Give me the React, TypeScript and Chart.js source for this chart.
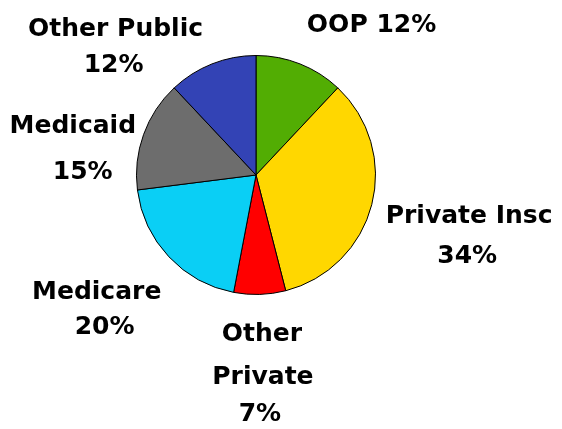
import React, { useEffect, useRef } from "react";
import { Chart, registerables } from "chart.js";

Chart.register(...registerables);

const categories = ["OOP", "Private Insc", "Other Private", "Medicare", "Medicaid", "Other Public"];
const shares = [12, 34, 7, 20, 15, 12];
const sliceColors = ["#52AD03", "#FFD700", "#FF0000", "#0ACFF5", "#6D6D6D", "#3343B5"];
// how each label is broken into lines: inline, name/pct stacked, or each word stacked
const labelModes = ["inline", "stack", "words", "stack", "stack", "stack"];

function labelLines(i: number): string[] {
  const name = categories[i];
  const pct = `${shares[i]}%`;
  const mode = labelModes[i];
  if (mode === "inline") return [`${name} ${pct}`];
  if (mode === "words") return [...name.split(" "), pct];
  return [name, pct];
}

// line anchor offsets from the pie centre, in units of the pie radius
const lineOffsets: number[][][] = [
  [[0.967, -1.25]],
  [[1.783, 0.35], [1.767, 0.683]],
  [[0.05, 1.333], [0.058, 1.692], [0.033, 2.0]],
  [[-1.333, 0.983], [-1.267, 1.275]],
  [[-1.533, -0.408], [-1.45, -0.025]],
  [[-1.175, -1.217], [-1.192, -0.917]],
];

const outsideLabels = {
  id: "outsideLabels",
  afterDatasetsDraw(chart: any) {
    const meta = chart.getDatasetMeta(0);
    const ctx = chart.ctx;
    ctx.save();
    ctx.fillStyle = "#000";
    ctx.font = "bold 25px 'DejaVu Sans'";
    ctx.textAlign = "center";
    ctx.textBaseline = "middle";
    meta.data.forEach((arc: any, i: number) => {
      const { x, y, outerRadius } = arc.getProps(["x", "y", "outerRadius"], true);
      const lines = labelLines(i);
      lines.forEach((line, j) => {
        const off = lineOffsets[i][j];
        ctx.fillText(line, x + off[0] * outerRadius, y + off[1] * outerRadius);
      });
    });
    ctx.restore();
  },
};

export default function App() {
  const ref = useRef<HTMLCanvasElement>(null);
  useEffect(() => {
    document.body.style.margin = "0";
    const chart = new Chart(ref.current!, {
      type: "pie",
      data: {
        labels: categories,
        datasets: [
          {
            data: shares,
            backgroundColor: sliceColors,
            borderColor: "#000",
            borderWidth: 1,
          },
        ],
      },
      options: {
        responsive: false,
        animation: false,
        layout: { padding: { left: 136, right: 186, top: 55, bottom: 134 } },
        plugins: { legend: { display: false }, tooltip: { enabled: false } },
      },
      plugins: [outsideLabels],
    });
    return () => chart.destroy();
  }, []);
  return <canvas ref={ref} width={562} height={429} style={{ display: "block" }} />;
}
